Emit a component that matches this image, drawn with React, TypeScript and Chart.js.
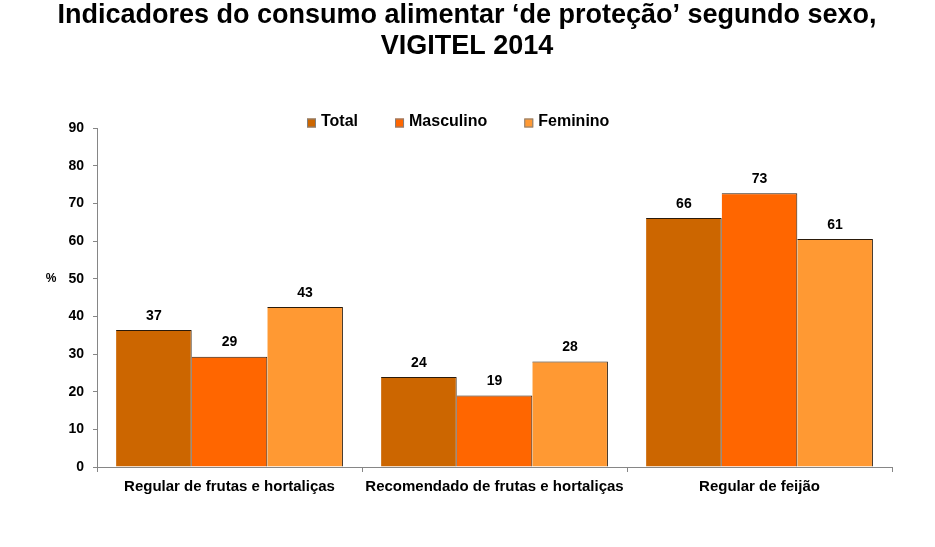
import React, { useEffect, useRef } from "react";
import { Chart, registerables } from "chart.js";

Chart.register(...registerables);

const categories = [
  "Regular de frutas e hortaliças",
  "Recomendado de frutas e hortaliças",
  "Regular de feijão",
];
const seriesNames = ["Total", "Masculino", "Feminino"];
const totalValues = [36.4, 23.9, 66.1];
const masculinoValues = [29.3, 19.0, 72.7];
const femininoValues = [42.5, 28.0, 60.5];
const totalLabels = ["37", "24", "66"];
const masculinoLabels = ["29", "19", "73"];
const femininoLabels = ["43", "28", "61"];
const seriesColors = ["#CC6600", "#FF6600", "#FF9933"];
const yTicks = [0, 10, 20, 30, 40, 50, 60, 70, 80, 90];
const titleLines = [
  "Indicadores do consumo alimentar \u2018de prote\u00e7\u00e3o\u2019 segundo sexo,",
  "VIGITEL 2014",
];

const FONT = "'Liberation Sans', Arial, sans-serif";

export default function App() {
  const ref = useRef<HTMLCanvasElement | null>(null);

  useEffect(() => {
    if (!ref.current) return;
    const valueLabels = [totalLabels, masculinoLabels, femininoLabels];

    const decorPlugin = {
      id: "decor",
      afterDraw(chart: any) {
        const ctx = chart.ctx;
        ctx.save();
        // title
        ctx.fillStyle = "#000";
        ctx.textAlign = "center";
        ctx.textBaseline = "middle";
        ctx.font = `bold 27px ${FONT}`;
        ctx.fillText(titleLines[0], 467, 16);
        ctx.fillText(titleLines[1], 467, 47);

        // value labels
        ctx.font = `bold 14px ${FONT}`;
        ctx.textBaseline = "bottom";
        chart.data.datasets.forEach((ds: any, i: number) => {
          const meta = chart.getDatasetMeta(i);
          meta.data.forEach((bar: any, j: number) => {
            ctx.fillText(valueLabels[i][j], bar.x, bar.y - 7);
          });
        });

        // % label
        const ys = chart.scales.y;
        ctx.font = `bold 12px ${FONT}`;
        ctx.textBaseline = "middle";
        ctx.fillText("%", 51, ys.getPixelForValue(50));

        // legend
        ctx.font = `bold 16px ${FONT}`;
        ctx.textAlign = "left";
        let x = 307;
        const ly = 123;
        chart.data.datasets.forEach((ds: any) => {
          ctx.fillStyle = ds.backgroundColor;
          ctx.fillRect(x, ly - 4.5, 9, 9);
          ctx.strokeStyle = "#808080";
          ctx.lineWidth = 1;
          ctx.strokeRect(x + 0.5, ly - 4.5 + 0.5, 8, 8);
          ctx.fillStyle = "#000";
          ctx.fillText(ds.label, x + 14, ly - 1);
          const w = ctx.measureText(ds.label).width;
          x += 14 + w + 37;
        });
        ctx.restore();
      },
    };

    const chart = new Chart(ref.current, {
      type: "bar",
      data: {
        labels: categories,
        datasets: [
          { label: seriesNames[0], data: totalValues, backgroundColor: seriesColors[0] },
          { label: seriesNames[1], data: masculinoValues, backgroundColor: seriesColors[1] },
          { label: seriesNames[2], data: femininoValues, backgroundColor: seriesColors[2] },
        ].map((d) => ({
          ...d,
          borderColor: "#2a1a0a",
          borderWidth: { top: 1, right: 1, left: 0, bottom: 0 },
          categoryPercentage: 0.856,
          barPercentage: 1,
        })),
      },
      options: {
        animation: false,
        responsive: false,
        maintainAspectRatio: false,
        layout: { padding: { top: 128, right: 43, left: 0, bottom: 0 } },
        plugins: {
          legend: { display: false },
          title: { display: false },
          tooltip: { enabled: false },
        },
        scales: {
          x: {
            afterFit: (s: any) => {
              s.height = 80;
            },
            grid: {
              display: true,
              drawOnChartArea: false,
              offset: true,
              tickLength: 5,
              color: "#868686",
            },
            border: { color: "#868686" },
            ticks: {
              color: "#000",
              padding: 6,
              maxRotation: 0,
              autoSkip: false,
              font: { family: FONT, size: 15, weight: "bold" },
            },
          },
          y: {
            min: 0,
            max: 90,
            afterFit: (s: any) => {
              s.width = 97;
            },
            afterBuildTicks: (s: any) => {
              s.ticks = yTicks.map((v) => ({ value: v }));
            },
            grid: {
              display: true,
              drawOnChartArea: false,
              tickLength: 4,
              color: "#868686",
            },
            border: { color: "#868686" },
            ticks: {
              color: "#000",
              padding: 9,
              font: { family: FONT, size: 14, weight: "bold" },
            },
          },
        },
      },
      plugins: [decorPlugin],
    } as any);
    return () => chart.destroy();
  }, []);

  return (
    <div style={{ position: "absolute", left: 0, top: 0, width: 935, height: 547, background: "#fff" }}>
      <canvas ref={ref} width={935} height={547} style={{ display: "block" }} />
    </div>
  );
}
